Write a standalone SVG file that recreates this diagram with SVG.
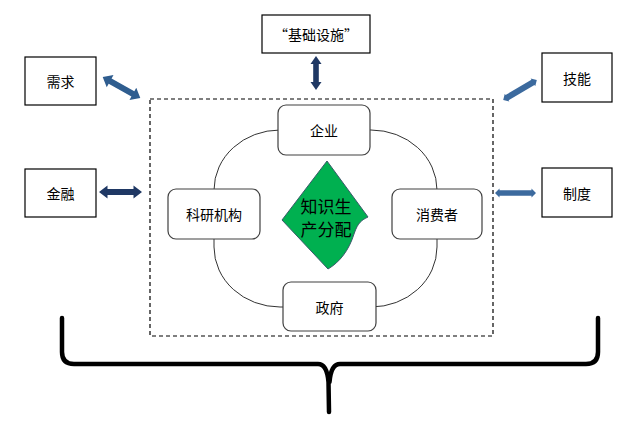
<svg xmlns="http://www.w3.org/2000/svg" width="632" height="423" viewBox="0 0 632 423">
<style>
.box{fill:#fff;stroke:#000;stroke-width:1.2}
.rbox{fill:#fff;stroke:#404040;stroke-width:1.2}
.t{font-family:"Noto Sans CJK SC","Liberation Sans",sans-serif;font-size:14px;fill:#000;text-anchor:middle;dominant-baseline:central}
.big{font-size:17px}
.dark{fill:#1F3864}
.mid{fill:#2F5D8F}
.light{fill:#3C6A9E}
</style>
<rect width="632" height="423" fill="#fff"/>
<g id="boundary">
<rect x="150" y="99" width="343" height="237" fill="none" stroke="#000" stroke-width="1.2" stroke-dasharray="4,3"/>
</g>
<g id="connectors">
<rect x="214" y="130" width="223" height="177" rx="66" ry="60" fill="none" stroke="#333" stroke-width="1"/>
<polygon class="mid" transform="translate(121.5,87.5) rotate(29)" points="-21.5,0 -13,-7 -13,-3 13,-3 13,-7 21.5,0 13,7 13,3 -13,3 -13,7"/>
<polygon class="dark" transform="translate(120.5,192)" points="-21.5,0 -13,-6.5 -13,-3 13,-3 13,-6.5 21.5,0 13,6.5 13,3 -13,3 -13,6.5"/>
<polygon class="dark" transform="translate(316,73) rotate(90)" points="-17,0 -9,-5.5 -9,-2.8 9,-2.8 9,-5.5 17,0 9,5.5 9,2.8 -9,2.8 -9,5.5"/>
<polygon class="light" transform="translate(520,90) rotate(-30.5)" points="-19.5,0 -15,-4.5 -15,-3 15,-3 15,-4.5 19.5,0 15,4.5 15,3 -15,3 -15,4.5"/>
<polygon class="light" transform="translate(515.5,193)" points="-20.5,0 -16,-4.5 -16,-2.8 16,-2.8 16,-4.5 20.5,0 16,4.5 16,2.8 -16,2.8 -16,4.5"/>
<path d="M62,318 L62,352 Q62,364 74,364 L318,364 Q327,364 328.5,382 L329,412 M598,318 L598,352 Q598,364 586,364 L340,364 Q331,364 329.5,382" fill="none" stroke="#000" stroke-width="4.5" stroke-linecap="round"/>
</g>
<g id="infrastructure">
<rect class="box" x="262" y="15" width="108" height="38"/>
<text class="t" x="316" y="34">“基础设施”</text>
</g>
<g id="demand">
<rect class="box" x="25" y="57" width="71" height="48"/>
<text class="t" x="60.5" y="81">需求</text>
</g>
<g id="finance">
<rect class="box" x="25" y="169" width="71" height="48"/>
<text class="t" x="60.5" y="193">金融</text>
</g>
<g id="skills">
<rect class="box" x="542" y="53" width="70" height="49"/>
<text class="t" x="577" y="77.5">技能</text>
</g>
<g id="institutions">
<rect class="box" x="542" y="168" width="70" height="49"/>
<text class="t" x="577" y="192.5">制度</text>
</g>
<g id="enterprise">
<rect class="rbox" x="278" y="105" width="92" height="50" rx="8"/>
<text class="t" x="324" y="130">企业</text>
</g>
<g id="research">
<rect class="rbox" x="168" y="189" width="92" height="50" rx="8"/>
<text class="t" x="214" y="214">科研机构</text>
</g>
<g id="consumer">
<rect class="rbox" x="392" y="189" width="90" height="50" rx="8"/>
<text class="t" x="437" y="214">消费者</text>
</g>
<g id="government">
<rect class="rbox" x="283" y="282" width="93" height="49" rx="8"/>
<text class="t" x="329.5" y="306.5">政府</text>
</g>
<g id="knowledge">
<path d="M327,161 L368,217 C362,220 358,222 354,234 C349,250 340,262 328,269 L282,220 Z" fill="#00B050" stroke="#3A5A6A" stroke-width="1"/>
<text class="t big" x="326" y="205">知识生</text>
<text class="t big" x="326" y="228">产分配</text>
</g>
</svg>
